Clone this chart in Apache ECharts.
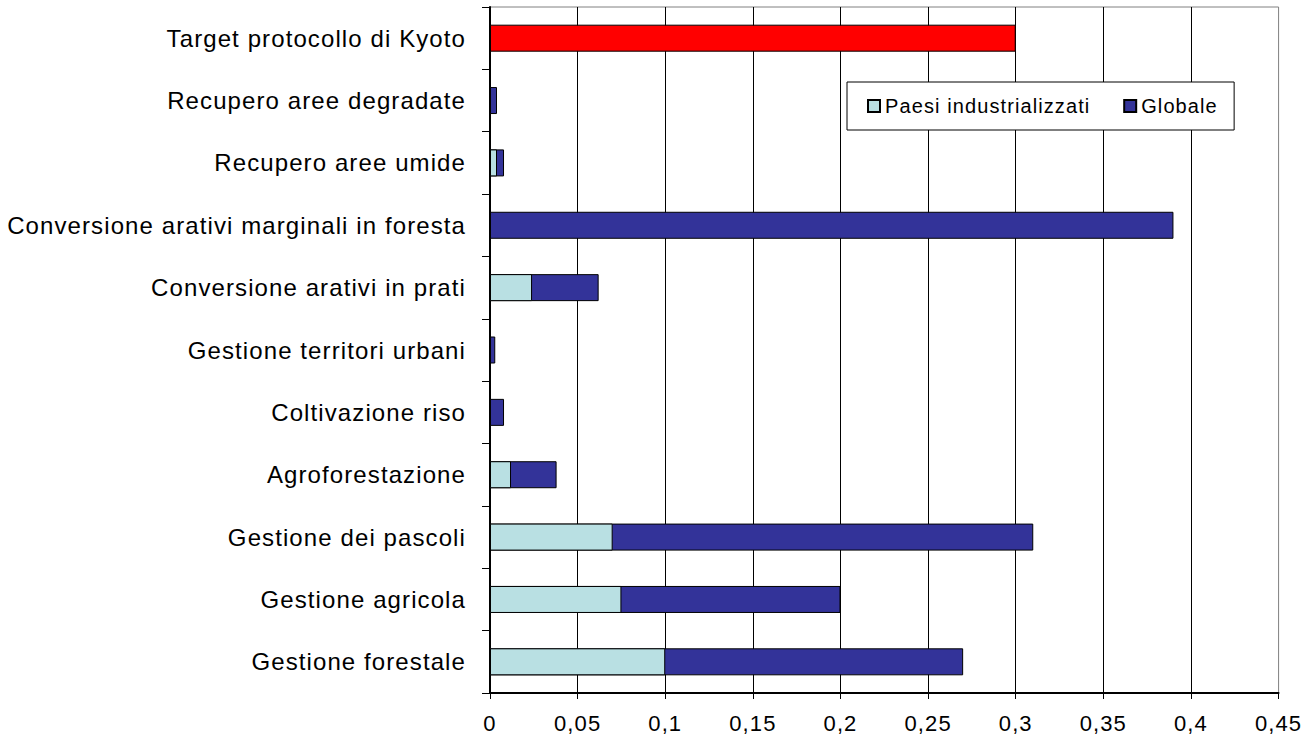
<!DOCTYPE html>
<html>
<head>
<meta charset="utf-8">
<script src="https://cdn.jsdelivr.net/npm/echarts@6/dist/echarts.min.js"></script>
<style>
  html, body { margin: 0; padding: 0; background: #fff; }
  #chart { width: 1303px; height: 739px; }
  /* slightly wider text run, like the original spreadsheet chart */
  #chart svg text { letter-spacing: 1.1px; }
</style>
</head>
<body>
<div id="chart"></div>
<script>
// Categories, listed top to bottom
const categories = [
  'Target protocollo di Kyoto',
  'Recupero aree degradate',
  'Recupero aree umide',
  'Conversione arativi marginali in foresta',
  'Conversione arativi in prati',
  'Gestione territori urbani',
  'Coltivazione riso',
  'Agroforestazione',
  'Gestione dei pascoli',
  'Gestione agricola',
  'Gestione forestale'
];

// Industrialised countries potential (null = no bar)
const paesiIndustrializzati = [null, null, 0.004, null, 0.024, null, null, 0.012, 0.07, 0.075, 0.1];

// Global potential (total bar length); the first entry is the Kyoto target
const globale = [0.3, 0.004, 0.008, 0.39, 0.062, 0.003, 0.008, 0.038, 0.31, 0.2, 0.27];

// Value axis ticks
const xMin = 0, xMax = 0.45, xStep = 0.05;

const FONT = "'Liberation Sans', Arial, sans-serif";
const COL_PAESI = '#B9E0E3';
const COL_GLOBALE = '#333399';
const COL_TARGET = '#FF0000';

const chart = echarts.init(document.getElementById('chart'), null, { renderer: 'svg' });

const globaleData = globale.map((v, i) => i === 0
  ? { value: v, itemStyle: { color: COL_TARGET } }
  : v);

chart.setOption({
  animation: false,
  backgroundColor: '#fff',
  textStyle: { fontFamily: FONT, color: '#000' },
  grid: {
    left: 490, right: 23, top: 7, bottom: 46,
    show: true, borderColor: '#808080', borderWidth: 1, backgroundColor: '#fff'
  },
  legend: {
    data: ['Paesi industrializzati', 'Globale'],
    left: 847, top: 82,
    orient: 'horizontal',
    padding: [14, 24, 14, 20],
    itemGap: 57,
    itemWidth: 12, itemHeight: 12,
    icon: 'rect',
    backgroundColor: '#fff',
    borderColor: '#000', borderWidth: 1, borderRadius: 0,
    textStyle: { fontFamily: FONT, fontSize: 20, color: '#000' }
  },
  xAxis: {
    type: 'value',
    min: xMin, max: xMax, interval: xStep,
    axisLine: { show: true, lineStyle: { color: '#000', width: 2 } },
    axisTick: { show: true, inside: false, length: 6, lineStyle: { color: '#000', width: 1 } },
    axisLabel: {
      fontFamily: FONT, fontSize: 22, color: '#000', margin: 19,
      formatter: v => String(+v.toFixed(2)).replace('.', ',')
    },
    splitLine: { show: true, showMaxLine: false, lineStyle: { color: '#000', width: 1 } }
  },
  yAxis: {
    type: 'category',
    data: categories,
    inverse: true,
    axisLine: { show: true, lineStyle: { color: '#000', width: 2 } },
    axisTick: { show: true, inside: false, length: 8, alignWithLabel: false, lineStyle: { color: '#000', width: 1 } },
    axisLabel: { fontFamily: FONT, fontSize: 24, color: '#000', margin: 24, interval: 0 },
    splitLine: { show: false }
  },
  series: [
    {
      name: 'Globale',
      type: 'bar',
      data: globaleData,
      barWidth: 27,
      itemStyle: { color: COL_GLOBALE, borderColor: '#000', borderWidth: 1 },
      z: 2
    },
    {
      name: 'Paesi industrializzati',
      type: 'bar',
      data: paesiIndustrializzati,
      barWidth: 27,
      barGap: '-100%',
      itemStyle: { color: COL_PAESI, borderColor: '#000', borderWidth: 1 },
      z: 3
    }
  ]
});
</script>
</body>
</html>
